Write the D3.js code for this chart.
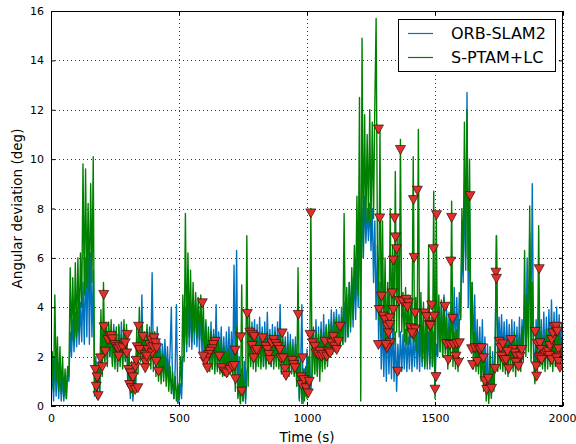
<!DOCTYPE html>
<html>
<head>
<meta charset="utf-8">
<script src="https://cdnjs.cloudflare.com/ajax/libs/d3/7.8.5/d3.min.js"></script>
<style>
  body { margin: 0; background: #fff; }
  svg { display: block; }
  text { font-family: "DejaVu Sans", sans-serif; fill: #000; }
</style>
</head>
<body>
<svg id="chart" width="576" height="444"></svg>
<script>
// Sampling interval of both series (seconds)
const sampleStep = 5;

// Angular deviation (deg) of ORB-SLAM2, one value every 5 s from t = 0
const orbSlam2 = [
  0.3,1.5,0.2,2.0,0.4,1.8,0.3,1.5,0.2,1.2,0.2,1.0,0.3,1.5,1.0,3.0,2.0,3.5,2.2,3.8,
  2.4,4.0,2.5,4.2,2.6,5.0,2.5,6.0,2.8,6.6,2.5,6.2,2.8,5.5,0.4,2.0,0.3,1.8,0.5,2.2,
  1.5,3.0,1.8,3.2,1.9,3.4,2.0,3.0,1.7,3.3,1.8,3.0,1.6,3.2,1.8,3.4,1.7,3.1,1.9,3.0,
  0.8,2.0,0.3,1.5,0.2,1.6,0.6,2.8,1.6,3.2,1.8,4.5,1.7,3.0,1.9,3.1,1.8,3.0,2.0,5.4,
  1.8,3.0,1.6,3.2,1.5,2.6,1.3,2.5,1.4,2.7,1.2,2.4,1.0,2.2,4.0,0.8,0.3,1.5,4.1,0.1,
  0.2,0.9,0.3,2.0,2.0,4.0,2.2,4.5,2.4,4.2,2.3,4.0,2.5,4.3,2.4,4.0,2.2,4.1,2.0,3.6,
  1.6,3.3,1.5,3.0,1.6,3.4,1.5,3.1,1.6,4.1,1.5,3.0,1.6,3.2,1.4,2.8,1.5,3.0,1.4,3.2,
  1.4,3.0,1.3,5.7,1.0,6.3,0.4,2.0,0.1,1.5,0.2,1.8,0.1,1.4,1.6,3.2,1.7,3.4,1.8,3.5,
  1.6,3.3,1.7,3.6,1.8,3.2,1.6,3.4,1.7,3.8,1.8,3.1,1.6,3.3,1.7,3.2,1.8,3.4,1.6,4.1,
  1.4,3.0,1.3,2.8,1.4,3.0,1.3,2.9,1.4,2.7,1.3,2.8,0.8,2.0,0.2,1.6,4.1,0.1,1.5,0.4,
  2.3,0.5,2.0,0.6,1.4,3.2,1.3,3.5,1.4,3.2,1.5,3.4,1.6,3.7,1.7,3.3,1.8,3.5,2.0,3.9,
  2.2,3.8,2.3,3.9,2.2,3.7,2.4,4.0,2.5,4.2,2.6,4.5,2.8,5.0,3.0,5.2,3.2,5.5,3.5,6.0,
  4.0,7.0,5.0,8.0,6.0,8.5,6.6,8.0,6.7,8.2,6.3,8.0,5.0,7.5,3.5,6.5,2.5,5.0,1.5,3.5,
  1.2,3.4,1.0,3.5,1.3,3.2,1.1,3.4,1.0,3.0,0.6,2.5,1.3,3.0,1.4,2.9,1.5,3.1,1.4,2.8,
  1.5,3.0,1.4,2.9,1.6,3.2,1.5,3.0,1.4,3.1,1.6,3.0,1.5,3.2,1.7,3.0,1.5,3.3,1.6,3.0,
  0.8,2.5,2.0,4.0,2.2,4.2,2.0,4.5,2.3,4.0,2.0,3.8,2.1,4.2,2.0,4.8,2.2,4.4,2.5,4.6,
  3.5,6.5,5.0,9.0,5.5,12.7,4.0,8.0,2.5,5.0,2.2,4.5,1.8,3.5,1.6,3.2,1.2,3.5,1.0,2.8,
  0.6,2.5,0.3,2.0,0.4,2.2,0.8,2.5,6.9,2.0,3.6,2.2,3.7,2.0,3.4,1.8,3.5,1.9,3.3,1.7,
  3.5,1.6,3.4,1.5,3.2,1.7,3.6,1.6,3.5,2.0,4.5,2.5,6.0,2.8,7.0,3.0,9.0,2.5,1.0,3.5,
  1.5,4.0,1.8,3.5,1.7,3.8,1.6,3.6,1.8,3.9,1.7,4.3,1.8,3.8,1.9,4.0,2.0,3.7,2.2,3.4
];

// Angular deviation (deg) of S-PTAM+LC, one value every 5 s from t = 0
const sptamLc = [
  0.5,2.2,0.6,4.5,1.0,2.8,0.6,2.4,0.5,2.0,0.4,1.5,0.3,1.6,1.2,5.6,2.6,5.2,2.6,5.8,
  2.8,6.0,3.0,6.2,4.0,9.8,4.5,9.6,4.8,8.2,4.6,9.0,5.0,10.1,0.6,1.8,0.3,1.6,0.5,3.9,
  1.2,5.0,1.8,3.4,1.6,3.3,2.0,3.5,1.6,3.1,1.5,3.2,1.4,3.3,1.6,2.9,1.5,3.5,1.8,3.3,
  1.0,2.2,0.5,1.8,0.4,2.0,0.6,3.2,1.3,4.0,1.8,3.4,1.6,3.0,1.5,3.3,1.7,3.2,1.5,3.0,
  1.4,3.0,1.2,2.8,1.0,2.3,0.9,2.1,1.0,2.0,0.8,1.9,0.6,1.6,0.5,1.4,0.3,1.2,0.2,0.9,
  0.3,2.0,0.8,4.5,1.8,7.8,2.5,6.2,2.8,5.5,2.6,5.0,3.0,4.6,2.8,4.4,2.7,4.5,2.6,4.2,
  1.6,3.5,1.5,3.2,1.4,3.0,1.5,2.9,1.3,2.8,1.4,2.6,1.3,2.7,1.2,2.4,1.3,2.2,1.2,2.3,
  1.3,2.2,1.2,2.4,0.6,3.2,0.3,1.0,0.1,4.9,0.2,1.0,0.3,6.9,0.8,3.7,1.6,3.2,1.5,3.0,
  1.4,3.0,1.6,2.9,1.5,3.0,1.6,2.8,1.5,3.0,1.7,2.9,1.6,2.8,1.5,3.0,1.6,2.8,1.5,3.0,
  1.3,2.7,1.2,2.6,1.3,2.5,1.2,2.6,1.3,2.4,1.2,2.5,0.8,5.6,0.3,1.8,0.1,1.5,0.2,1.6,
  0.3,2.0,0.5,8.0,1.2,3.1,1.3,3.0,1.2,2.9,1.0,3.1,1.4,3.0,1.5,3.2,1.6,3.3,2.0,3.4,
  2.1,3.5,2.2,3.6,2.3,3.4,2.4,3.6,2.5,7.8,2.6,4.8,2.8,5.0,3.2,5.6,3.5,6.5,4.3,8.5,
  4.5,12.5,0.2,14.9,6.0,11.8,7.4,11.0,7.5,12.0,7.3,11.5,7.6,12.2,15.7,6.5,3.5,11.2,2.8,7.5,
  2.5,6.0,2.3,5.0,2.6,8.0,3.0,6.5,2.5,9.5,3.0,7.0,2.8,10.8,3.0,4.6,2.6,4.8,2.5,4.5,
  2.5,4.4,2.8,10.1,2.6,4.4,2.2,11.2,2.0,4.6,1.8,4.2,1.6,3.8,1.5,6.5,1.7,3.6,1.6,8.7,
  0.3,7.7,2.0,4.5,2.2,4.3,2.0,4.4,2.1,3.6,1.5,3.2,1.8,8.3,1.6,3.0,1.5,3.1,1.4,3.5,
  3.5,8.0,5.5,11.5,6.0,12.0,5.5,10.0,2.5,5.0,1.5,3.0,1.4,2.8,1.3,2.6,1.0,2.4,0.6,2.0,
  0.2,1.2,0.1,2.4,0.3,1.5,0.6,2.0,6.9,1.4,2.8,1.5,2.6,1.4,2.7,1.3,2.5,1.2,2.6,1.5,
  2.8,1.4,3.0,1.2,2.7,1.5,2.9,1.4,3.2,1.8,6.3,2.0,4.5,2.2,8.1,1.8,5.0,2.0,0.9,3.0,
  1.2,7.3,1.6,3.0,1.5,2.8,1.4,3.1,1.5,2.9,1.6,3.2,1.4,3.0,1.6,3.3,1.8,3.1,1.5,2.8
];

// Flagged events (time in s, angular deviation in deg)
const markerTimes = [
  206,173,180,177,184,193,200,207,212,223,230,235,240,249,255,262,268,264,281,290,
  298,296,303,311,307,314,329,339,329,320,333,342,337,346,359,366,370,368,379,385,
  392,395,398,402,408,413,374,411,420,
  591,641,634,630,621,615,608,602,611,595,658,667,677,686,699,708,716,719,721,745,741,767,
  777,786,794,786,797,806,792,803,827,839,846,851,855,862,870,878,885,894,903,898,
  907,914,918,943,948,953,966,983,977,979,988,996,1005,1009,
  1015,1012,1022,1031,1035,1044,1051,1057,1064,1070,1077,1083,1090,1096,1103,1109,1116,1122,1129,
  1279,1284,1342,1346,1350,1337,1291,1282,1298,1305,1314,1318,1324,1325,1312,1279,1308,1333,1337,1324,
  1354,1360,1365,
  1374,1387,1396,1392,1413,1405,1422,1415,1410,1422,1416,1419,1431,1461,1467,1478,1506,1494,1487,1497,
  1482,1504,1500,
  1539,1545,1559,1572,1585,1595,1552,1582,1591,1569,1565,1561,
  1637,1643,1656,1669,1676,1647,1666,1682,1689,1695,1702,1708,1721,1734,1738,1740,
  1751,1757,1760,1769,1777,1788,1797,1803,1812,1819,1826,1832,1839,1816,1826,1765,1783,
  1907,1891,1900,1895,1897,1912,1910,1916,1923,1930,1936,1942,1949,1956,1960,1965,1973,1978,1982,1986,
  1907,1916,1947,1956,1975,1982,1988
];
const markerValues = [
  4.5,1.46,1.16,0.78,0.40,1.93,1.57,3.19,2.2,2.67,2.8,2.83,2.7,2.47,2.38,2.3,2.4,2.0,2.34,2.54,
  2.88,2.13,1.46,1.32,0.85,0.72,0.65,0.72,1.57,1.16,1.83,3.21,2.38,2.27,2.8,2.07,1.76,1.53,2.27,2.47,
  2.65,2.13,2.38,2.74,2.54,2.34,2.0,1.79,1.39,
  4.16,2.6,2.47,2.3,2.2,2.07,1.93,1.79,1.53,2.0,2.0,1.53,1.39,1.32,1.46,1.59,1.62,2.24,1.08,0.58,2.78,3.73,
  2.97,2.88,2.8,2.43,2.2,2.2,1.93,2.27,2.74,2.4,2.27,2.07,1.86,2.54,2.67,2.51,2.4,2.27,2.94,1.93,
  1.93,1.49,1.22,1.83,1.66,1.53,3.69,1.93,1.16,0.85,1.05,0.72,0.51,0.98,
  7.8,2.88,2.54,2.4,2.13,2.07,2.2,2.0,2.07,2.6,2.0,2.2,2.13,2.54,2.8,2.4,2.27,2.6,3.21,
  11.2,7.6,7.6,6.83,6.35,5.89,4.43,3.89,3.62,3.48,3.21,2.94,3.55,2.54,2.34,2.47,2.47,4.56,3.89,3.28,
  1.39,4.25,10.37,
  4.22,4.3,4.16,4.0,3.05,3.15,3.1,2.88,2.94,3.75,8.34,6.0,8.72,3.75,3.6,3.28,7.73,6.35,4.07,3.62,
  3.24,1.17,0.66,
  4.02,2.51,2.47,2.47,2.51,2.54,1.86,2.0,1.75,3.53,7.62,5.85,
  8.5,2.3,2.34,2.34,2.27,1.66,1.79,2.34,1.93,1.0,0.65,1.1,0.7,1.5,5.4,5.15,
  2.6,2.34,2.0,1.86,1.86,1.49,2.67,2.27,2.13,2.0,1.79,2.0,2.27,1.75,1.59,2.5,2.2,
  5.54,3.0,2.51,1.6,1.19,2.0,2.54,2.27,2.0,2.07,2.13,2.2,2.43,2.67,2.94,3.19,3.21,3.01,2.3,2.0,
  1.93,1.86,2.03,1.86,1.93,1.79,1.55
];

const xTicks = [0, 500, 1000, 1500, 2000];
const yTicks = [0, 2, 4, 6, 8, 10, 12, 14, 16];
const seriesNames = ["ORB-SLAM2", "S-PTAM+LC"];
const seriesColors = ["#0072bd", "#008000"];

const sampleTimes = orbSlam2.map((_, i) => i * sampleStep);

const svg = d3.select("#chart");
const plot = { left: 51, right: 563, top: 11, bottom: 406 };

const x = d3.scaleLinear().domain([0, 2000]).range([plot.left, plot.right]);
const y = d3.scaleLinear().domain([0, 16]).range([plot.bottom, plot.top]);

svg.append("defs").append("clipPath").attr("id", "plotClip")
  .append("rect")
  .attr("x", plot.left).attr("y", plot.top)
  .attr("width", plot.right - plot.left).attr("height", plot.bottom - plot.top);

// dotted grid
const grid = svg.append("g").attr("stroke", "#000").attr("stroke-width", 0.8)
  .attr("stroke-dasharray", "1,3");
grid.selectAll("line.gx").data(xTicks).join("line").attr("class", "gx")
  .attr("x1", d => Math.round(x(d)) + 0.5).attr("x2", d => Math.round(x(d)) + 0.5)
  .attr("y1", plot.top).attr("y2", plot.bottom);
grid.selectAll("line.gy").data(yTicks).join("line").attr("class", "gy")
  .attr("y1", d => Math.round(y(d)) + 0.5).attr("y2", d => Math.round(y(d)) + 0.5)
  .attr("x1", plot.left).attr("x2", plot.right);

// series
const line = d3.line()
  .x((d, i) => x(sampleTimes[i]))
  .y(d => y(d));

const lines = svg.append("g").attr("clip-path", "url(#plotClip)");
[orbSlam2, sptamLc].forEach((series, k) => {
  lines.append("path")
    .datum(series)
    .attr("d", line)
    .attr("fill", "none")
    .attr("stroke", seriesColors[k])
    .attr("stroke-width", 1.4)
    .attr("stroke-linejoin", "round");
});

// event markers (downward triangles)
const tri = "M-5,-4.5L5,-4.5L0,4.5Z";
lines.append("g").selectAll("path")
  .data(markerTimes.map((t, i) => [t, markerValues[i]]))
  .join("path")
  .attr("d", tri)
  .attr("transform", d => `translate(${x(d[0])},${y(d[1])})`)
  .attr("fill", "#e0302a")
  .attr("stroke", "#3a0c08")
  .attr("stroke-width", 0.7);

// axes (ticks point inward on all four sides)
const fmt = d3.format("d");
const axB = svg.append("g").attr("transform", `translate(0,${plot.bottom})`)
  .call(d3.axisBottom(x).tickValues(xTicks).tickFormat(fmt).tickSizeInner(-4).tickSizeOuter(0).tickPadding(8));
const axT = svg.append("g").attr("transform", `translate(0,${plot.top})`)
  .call(d3.axisTop(x).tickValues(xTicks).tickFormat("").tickSizeInner(-4).tickSizeOuter(0));
const axL = svg.append("g").attr("transform", `translate(${plot.left},0)`)
  .call(d3.axisLeft(y).tickValues(yTicks).tickFormat(fmt).tickSizeInner(-4).tickSizeOuter(0).tickPadding(7));
const axR = svg.append("g").attr("transform", `translate(${plot.right},0)`)
  .call(d3.axisRight(y).tickValues(yTicks).tickFormat("").tickSizeInner(-4).tickSizeOuter(0));
[axB, axT, axL, axR].forEach(g => {
  g.select(".domain").remove();
  g.selectAll("line").attr("stroke", "#000").attr("stroke-width", 1);
  g.selectAll("text").attr("font-size", 11).attr("font-family", "DejaVu Sans, sans-serif").attr("fill", "#000");
});
// keep the rightmost x label inside the canvas
axB.selectAll(".tick text").filter(d => d === 2000).attr("text-anchor", "end").attr("dx", "13");

// frame
svg.append("rect")
  .attr("x", plot.left + 0.5).attr("y", plot.top + 0.5)
  .attr("width", plot.right - plot.left - 1).attr("height", plot.bottom - plot.top - 1)
  .attr("fill", "none").attr("stroke", "#000").attr("stroke-width", 1);

// axis titles
svg.append("text")
  .attr("x", (plot.left + plot.right) / 2).attr("y", 442)
  .attr("text-anchor", "middle").attr("font-size", 13.5)
  .text("Time (s)");
svg.append("text")
  .attr("transform", `translate(22,${(plot.top + plot.bottom) / 2}) rotate(-90)`)
  .attr("text-anchor", "middle").attr("font-size", 13.5)
  .text("Angular deviation (deg)");

// legend
const legend = svg.append("g");
legend.append("rect")
  .attr("x", 398.5).attr("y", 19.5).attr("width", 157).attr("height", 52)
  .attr("fill", "#fff").attr("stroke", "#000").attr("stroke-width", 1);
seriesNames.forEach((name, i) => {
  const cy = 33 + i * 24;
  legend.append("line")
    .attr("x1", 408).attr("x2", 433).attr("y1", cy + 0.5).attr("y2", cy + 0.5)
    .attr("stroke", seriesColors[i]).attr("stroke-width", 1.2);
  legend.append("text")
    .attr("x", 451).attr("y", cy + 6)
    .attr("font-size", 16)
    .text(name);
});
</script>
</body>
</html>
